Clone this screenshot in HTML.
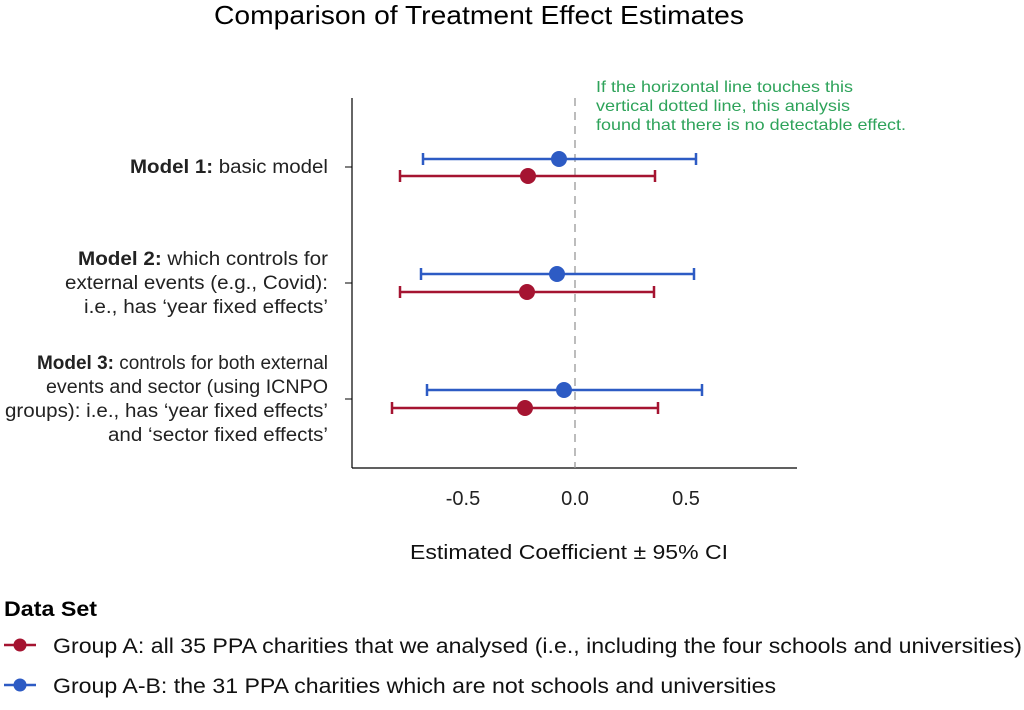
<!DOCTYPE html>
<html><head><meta charset="utf-8"><style>
html,body{margin:0;padding:0;background:#fff;}
svg text{font-family:"Liberation Sans",Arial,sans-serif;}
</style></head><body>
<svg width="1024" height="705" viewBox="0 0 1024 705" xmlns="http://www.w3.org/2000/svg">
<text x="214" y="24" font-size="26" textLength="530" lengthAdjust="spacingAndGlyphs" fill="#000">Comparison of Treatment Effect Estimates</text>
<!-- axes -->
<line x1="352" y1="98" x2="352" y2="468" stroke="#000" stroke-width="1.2"/>
<line x1="352" y1="468" x2="797" y2="468" stroke="#000" stroke-width="1.2"/>
<line x1="345" y1="167" x2="352" y2="167" stroke="#000"/>
<line x1="345" y1="283" x2="352" y2="283" stroke="#000"/>
<line x1="345" y1="399" x2="352" y2="399" stroke="#000"/>
<line x1="575" y1="98" x2="575" y2="468" stroke="#999" stroke-width="1.3" stroke-dasharray="8,6"/>
<g font-size="20" fill="#222" text-anchor="middle">
<text x="463" y="505">-0.5</text><text x="575" y="505">0.0</text><text x="686" y="505">0.5</text>
</g>
<text x="410" y="559" font-size="20" textLength="318" lengthAdjust="spacingAndGlyphs" fill="#111">Estimated Coefficient ± 95% CI</text>
<!-- y labels -->
<g font-size="19" fill="#222" lengthAdjust="spacingAndGlyphs">
<text x="130" y="173" textLength="198" lengthAdjust="spacingAndGlyphs"><tspan font-weight="bold">Model 1:</tspan> basic model</text>
<text x="78" y="265" textLength="250" lengthAdjust="spacingAndGlyphs"><tspan font-weight="bold">Model 2:</tspan> which controls for</text>
<text x="65" y="289" textLength="263" lengthAdjust="spacingAndGlyphs">external events (e.g., Covid):</text>
<text x="84" y="313" textLength="244" lengthAdjust="spacingAndGlyphs">i.e., has ‘year fixed effects’</text>
<text x="37" y="369" textLength="291" lengthAdjust="spacingAndGlyphs"><tspan font-weight="bold">Model 3:</tspan> controls for both external</text>
<text x="46" y="393" textLength="282" lengthAdjust="spacingAndGlyphs">events and sector (using ICNPO</text>
<text x="5" y="417" textLength="323" lengthAdjust="spacingAndGlyphs">groups): i.e., has ‘year fixed effects’</text>
<text x="108" y="441" textLength="220" lengthAdjust="spacingAndGlyphs">and ‘sector fixed effects’</text>
</g>
<!-- annotation -->
<g font-size="16" fill="#2EA35A">
<text x="596" y="92" textLength="257" lengthAdjust="spacingAndGlyphs">If the horizontal line touches this</text>
<text x="596" y="111" textLength="254" lengthAdjust="spacingAndGlyphs">vertical dotted line, this analysis</text>
<text x="596" y="130" textLength="310" lengthAdjust="spacingAndGlyphs">found that there is no detectable effect.</text>
</g>
<!-- series -->
<g stroke-width="2.5" fill="none">
<g stroke="#2D5BC4">
<path d="M423 159H696M423 153V165M696 153V165"/>
<path d="M421 274H694M421 268V280M694 268V280"/>
<path d="M427 390H702M427 384V396M702 384V396"/>
</g>
<g stroke="#A51431">
<path d="M400 176H655M400 170V182M655 170V182"/>
<path d="M400 292H654M400 286V298M654 286V298"/>
<path d="M392 408H658M392 402V414M658 402V414"/>
</g>
</g>
<g fill="#2D5BC4"><circle cx="559" cy="159" r="8"/><circle cx="557" cy="274" r="8"/><circle cx="564" cy="390" r="8"/></g>
<g fill="#A51431"><circle cx="528" cy="176" r="8"/><circle cx="527" cy="292" r="8"/><circle cx="525" cy="408" r="8"/></g>
<!-- legend -->
<text x="4" y="616" font-size="21" font-weight="bold" textLength="93" lengthAdjust="spacingAndGlyphs" fill="#000">Data Set</text>
<line x1="4" y1="645" x2="36" y2="645" stroke="#A51431" stroke-width="2.5"/>
<circle cx="20" cy="645" r="6.5" fill="#A51431"/>
<text x="53" y="653" font-size="21" textLength="969" lengthAdjust="spacingAndGlyphs" fill="#111">Group A: all 35 PPA charities that we analysed (i.e., including the four schools and universities)</text>
<line x1="4" y1="685" x2="36" y2="685" stroke="#2D5BC4" stroke-width="2.5"/>
<circle cx="20" cy="685" r="6.5" fill="#2D5BC4"/>
<text x="53" y="693" font-size="21" textLength="723" lengthAdjust="spacingAndGlyphs" fill="#111">Group A-B: the 31 PPA charities which are not schools and universities</text>
</svg>
</body></html>
